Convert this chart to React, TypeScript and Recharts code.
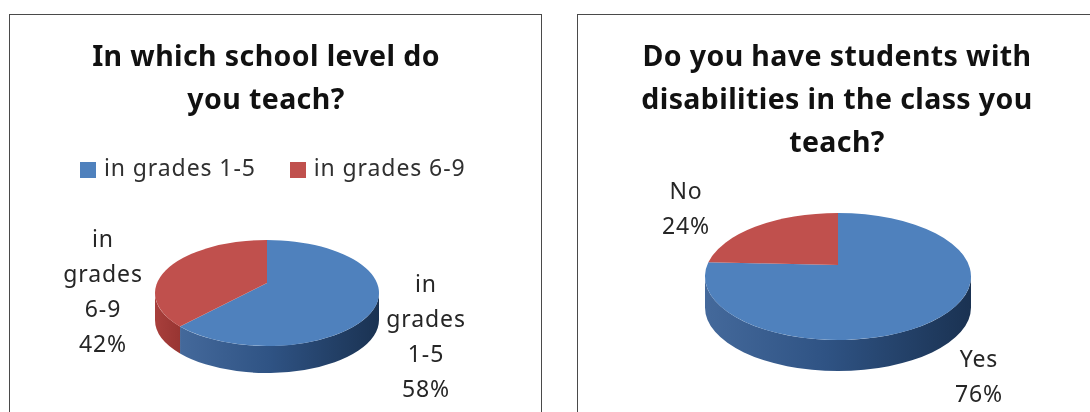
import { Legend, Pie, PieChart } from "recharts";

const levelNames = ["in grades 1-5", "in grades 6-9"];
const levelShares = [58, 42];
const disabilityNames = ["Yes", "No"];
const disabilityShares = [76, 24];

const levelTitle = ["In which school level do", "you teach?"];
const disabilityTitle = ["Do you have students with", "disabilities in the class you", "teach?"];

const FONT = "'Noto Sans', 'Open Sans', sans-serif";
const topColors = ["#4f81bd", "#c0504d"];
const sideFills = ["url(#sideBlue)", "url(#sideRed)"];

const toRows = (names: string[], shares: number[]) =>
  names.map((name, i) => ({ name, value: shares[i], fill: topColors[i] }));

const levelRows = toRows(levelNames, levelShares);
const disabilityRows = toRows(disabilityNames, disabilityShares);

// Recharts has no 3D pie, so the sector shape redraws itself as a tilted disc.
function discSlice(ry: number, rimDrop: number, depth: number, stretch: number) {
  return (props: any) => {
    const { cx, cy, outerRadius: rx, startAngle, endAngle, index } = props;
    const ey = cy + rimDrop;
    const from = Math.min(360, (90 - startAngle) * stretch);
    const to = Math.min(360, (90 - endAngle) * stretch);
    const rim = (deg: number, drop = 0) => {
      const a = (deg * Math.PI) / 180;
      return `${cx + rx * Math.sin(a)} ${ey - ry * Math.cos(a) + drop}`;
    };
    const large = to - from > 180 ? 1 : 0;
    const top = `M${cx} ${cy} L${rim(from)} A${rx} ${ry} 0 ${large} 1 ${rim(to)} Z`;
    const sideFrom = Math.max(from, 90);
    const sideTo = Math.min(to, 270);
    const side =
      sideTo > sideFrom
        ? `M${rim(sideFrom)} A${rx} ${ry} 0 0 1 ${rim(sideTo)} L${rim(sideTo, depth)} A${rx} ${ry} 0 0 0 ${rim(sideFrom, depth)} Z`
        : null;
    return (
      <g>
        {side && <path d={side} fill={sideFills[index]} />}
        <path d={top} fill={topColors[index]} />
      </g>
    );
  };
}

function wrappedLabel(spots: number[][], wrap: (name: string) => string[]) {
  return (props: any) => {
    const [x, y] = spots[props.index];
    const lines = [...wrap(props.name), `${props.value}%`];
    return (
      <text textAnchor="middle" fontFamily={FONT} fontSize={23} letterSpacing={0.9} fill="#262626">
        {lines.map((line, i) => (
          <tspan key={i} x={x} y={y + i * 35}>
            {line}
          </tspan>
        ))}
      </text>
    );
  };
}

function Title({ lines, x, y, gap }: { lines: string[]; x: number; y: number; gap: number }) {
  return (
    <text textAnchor="middle" fontFamily={FONT} fontWeight={700} fontSize={28.5} letterSpacing={0.4} fill="#111">
      {lines.map((line, i) => (
        <tspan key={i} x={x} y={y + i * gap}>
          {line}
        </tspan>
      ))}
    </text>
  );
}

const SideGradients = () => (
  <defs>
    <linearGradient id="sideBlue" x1="0" y1="0" x2="1" y2="0">
      <stop offset="0%" stopColor="#44699b" />
      <stop offset="45%" stopColor="#2f5384" />
      <stop offset="100%" stopColor="#1a3252" />
    </linearGradient>
    <linearGradient id="sideRed" x1="0" y1="0" x2="1" y2="0">
      <stop offset="0%" stopColor="#a83f3c" />
      <stop offset="100%" stopColor="#983532" />
    </linearGradient>
  </defs>
);

const frame = (left: number, width: number): React.CSSProperties => ({
  position: "absolute",
  left,
  top: 14,
  width,
  height: 400,
  border: "1.5px solid #4a4a4a",
  boxSizing: "border-box",
  background: "#fff",
});

export default function App() {
  return (
    <div
      style={{
        position: "fixed",
        left: 0,
        top: 0,
        width: 1090,
        height: 412,
        overflow: "hidden",
        background: "#fff",
        filter: "blur(0.5px)",
      }}
    >
      <div style={frame(9, 533)}>
        <PieChart width={530} height={397} margin={{ top: 0, right: 0, bottom: 0, left: 0 }}>
          <SideGradients />
          <Title lines={levelTitle} x={256} y={51} gap={43} />
          <Legend
            verticalAlign="top"
            align="left"
            iconType="square"
            iconSize={16}
            wrapperStyle={{ left: 70, top: 136, width: 440, fontFamily: FONT, fontSize: 23, letterSpacing: 0.9 }}
            formatter={(value: string) => (
              <span style={{ color: "#303030", marginLeft: 4, marginRight: 24 }}>{value}</span>
            )}
          />
          <Pie
            data={levelRows}
            dataKey="value"
            nameKey="name"
            cx={257}
            cy={236}
            outerRadius={112}
            startAngle={90}
            endAngle={-270}
            shape={discSlice(53, 10, 27, 1.106)}
            label={wrappedLabel([[416, 277], [93, 232]], (n) => ["in", "grades", n.split(" ")[2]])}
            labelLine={false}
            isAnimationActive={false}
          />
        </PieChart>
      </div>
      <div style={frame(577, 530)}>
        <PieChart width={527} height={397} margin={{ top: 0, right: 0, bottom: 0, left: 0 }}>
          <SideGradients />
          <Title lines={disabilityTitle} x={259} y={51} gap={43} />
          <Pie
            data={disabilityRows}
            dataKey="value"
            nameKey="name"
            cx={260}
            cy={250}
            outerRadius={133}
            startAngle={90}
            endAngle={-270}
            shape={discSlice(63.5, 11.5, 31, 1.034)}
            label={wrappedLabel([[401, 352], [108, 184]], (n) => [n])}
            labelLine={false}
            isAnimationActive={false}
          />
        </PieChart>
      </div>
    </div>
  );
}
